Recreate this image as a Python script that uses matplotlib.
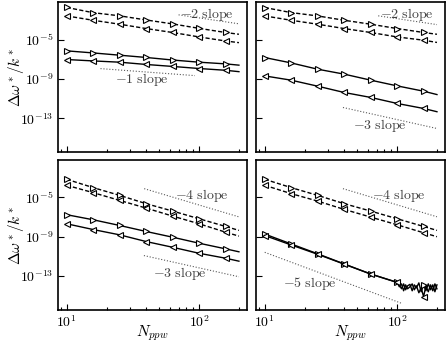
import numpy as np
import matplotlib
matplotlib.use("Agg")
import matplotlib.pyplot as plt
from matplotlib.ticker import NullLocator, NullFormatter, LogLocator

plt.rcParams['mathtext.fontset'] = 'cm'
plt.rcParams['font.family'] = 'serif'
plt.rcParams['font.serif'] = ['DejaVu Serif']

# grid resolution N_ppw (markers at the first 7 points)
N = [10, 15.8, 25.1, 39.8, 63.1, 100, 158.5, 200]

# log10(dw*/k*), per panel
a_dash_r = [-1.75, -2.28, -2.60, -3.02, -3.42, -3.87, -4.29, -4.47]
a_dash_l = [-2.61, -3.05, -3.45, -3.89, -4.29, -4.74, -5.15, -5.32]
a_solid_r = [-6.15, -6.36, -6.59, -6.82, -7.08, -7.30, -7.47, -7.60]
a_solid_l = [-7.03, -7.17, -7.30, -7.53, -7.73, -7.94, -8.12, -8.26]

b_dash_r = [-1.76, -2.27, -2.61, -3.05, -3.45, -3.89, -4.29, -4.47]
b_dash_l = [-2.61, -3.05, -3.45, -3.89, -4.29, -4.74, -5.07, -5.30]
b_solid_r = [-6.83, -7.37, -8.01, -8.51, -9.12, -9.70, -10.24, -10.58]
b_solid_l = [-8.69, -9.12, -9.73, -10.37, -10.87, -11.48, -11.99, -12.32]

c_dash_r = [-3.20, -4.04, -4.83, -5.67, -6.42, -7.20, -7.98, -8.38]
c_dash_l = [-3.81, -4.55, -5.34, -6.12, -6.93, -7.71, -8.56, -8.96]
c_solid_r = [-6.79, -7.30, -7.88, -8.49, -9.07, -9.68, -10.25, -10.55]
c_solid_l = [-7.71, -8.29, -8.83, -9.51, -10.09, -10.70, -11.20, -11.50]

d_dash_r = [-3.20, -4.04, -4.83, -5.67, -6.42, -7.20, -7.98, -8.38]
d_dash_l = [-3.81, -4.65, -5.41, -6.25, -7.03, -7.81, -8.62, -9.02]
# last panel: solid curves reach round-off noise beyond N=100
d_N = [10, 15.8, 25.1, 39.8, 63.1, 100, 104, 108, 112, 116, 120, 125, 130,
       135, 140, 146, 152, 158.5, 165, 172, 179, 186, 193, 200]
d_solid_r = [-8.75, -9.75, -10.75, -11.78, -12.80, -13.65, -13.90, -14.30,
             -13.80, -14.40, -14.00, -13.85, -14.50, -13.90, -14.20, -13.70,
             -14.60, -13.90, -14.50, -13.80, -14.40, -13.90, -14.60, -13.90]
d_solid_l = [-8.90, -9.85, -10.80, -11.80, -12.80, -13.65, -14.10, -13.80,
             -14.50, -13.90, -14.30, -14.10, -13.80, -14.40, -14.00, -14.70,
             -14.20, -15.10, -14.00, -14.60, -13.90, -14.50, -13.80, -14.30]

# slope guides: (N start, N end), (log y start, log y end), label, label position
guides = {
    'a': [((70, 200), (-2.50, -3.41), r'$-2\ \mathrm{slope}$', (114, -2.44)),
          ((18, 93), (-7.95, -8.66), r'$-1\ \mathrm{slope}$', (36.8, -9.05))],
    'b': [((72, 200), (-2.60, -3.49), r'$-2\ \mathrm{slope}$', (118, -2.44)),
          ((39, 200), (-11.89, -14.02), r'$-3\ \mathrm{slope}$', (74, -13.69))],
    'c': [((38.5, 200), (-4.15, -7.01), r'$-4\ \mathrm{slope}$', (104, -4.83)),
          ((38.3, 200), (-10.93, -13.08), r'$-3\ \mathrm{slope}$', (71.6, -12.79))],
    'd': [((39, 200), (-4.15, -7.00), r'$-4\ \mathrm{slope}$', (103, -4.83)),
          ((10, 108), (-10.60, -15.77), r'$-5\ \mathrm{slope}$', (22, -13.81))],
}

panels = {
    'a': (N, a_dash_r, a_dash_l, N, a_solid_r, a_solid_l),
    'b': (N, b_dash_r, b_dash_l, N, b_solid_r, b_solid_l),
    'c': (N, c_dash_r, c_dash_l, N, c_solid_r, c_solid_l),
    'd': (N, d_dash_r, d_dash_l, d_N, d_solid_r, d_solid_l),
}

fig, axes = plt.subplots(2, 2, figsize=(4.47, 3.46), dpi=100)
fig.subplots_adjust(left=0.1298, right=0.9955, top=0.9942, bottom=0.104,
                    wspace=0.048, hspace=0.047)

mk = dict(markerfacecolor='white', markeredgecolor='black', markersize=5,
          markeredgewidth=0.8, color='black', lw=1.0)
dash = (0, (3, 1.6))

for ax, key in zip(axes.flat, ['a', 'b', 'c', 'd']):
    nd, dr, dl, ns, sr, sl = panels[key]
    ax.set_xscale('log')
    ax.set_yscale('log')
    every_d = list(range(7))
    every_s = list(range(7)) if key != 'd' else [0, 1, 2, 3, 4, 5, 17]
    ax.plot(nd, 10 ** np.array(dr), ls=dash, marker='>', markevery=every_d, **mk)
    ax.plot(nd, 10 ** np.array(dl), ls=dash, marker='<', markevery=every_d, **mk)
    ax.plot(ns, 10 ** np.array(sr), ls='-', marker='>', markevery=every_s, **mk)
    ax.plot(ns, 10 ** np.array(sl), ls='-', marker='<', markevery=every_s, **mk)

    for (nx, ly, label, (tx, ty)) in guides[key]:
        ax.plot(nx, 10 ** np.array(ly), ls=':', color='0.35', lw=0.8)
        ax.text(tx, 10 ** ty, label, ha='center', va='center', fontsize=10,
                color='0.25')

    ax.set_xlim(8.6, 230)
    ax.set_ylim(10 ** -16.45, 10 ** -1.2)
    ax.set_yticks([1e-5, 1e-9, 1e-13])
    ax.yaxis.set_minor_locator(NullLocator())
    ax.set_xticks([10, 100])
    ax.xaxis.set_minor_locator(LogLocator(base=10, subs=np.arange(2, 10)))
    ax.xaxis.set_minor_formatter(NullFormatter())
    ax.tick_params(which='both', direction='in', width=0.8)
    ax.tick_params(which='major', length=4)
    ax.tick_params(which='minor', length=2.5)
    for s in ax.spines.values():
        s.set_linewidth(1.2)

    if key in ('a', 'c'):
        ax.set_yticklabels([r'$10^{-5}$', r'$10^{-9}$', r'$10^{-13}$'], fontsize=10)
        ax.set_ylabel(r'$\Delta\omega^*/k^*$', fontsize=11, va='center')
        ax.yaxis.set_label_coords(-0.225, 0.5)
    else:
        ax.set_yticklabels([])
    if key in ('c', 'd'):
        ax.set_xticklabels([r'$10^{1}$', r'$10^{2}$'], fontsize=10)
        ax.set_xlabel(r'$N_{ppw}$', fontsize=11, va='center')
        ax.xaxis.set_label_coords(0.5, -0.152)
    else:
        ax.set_xticklabels([])

fig.savefig('out.png', dpi=100)
